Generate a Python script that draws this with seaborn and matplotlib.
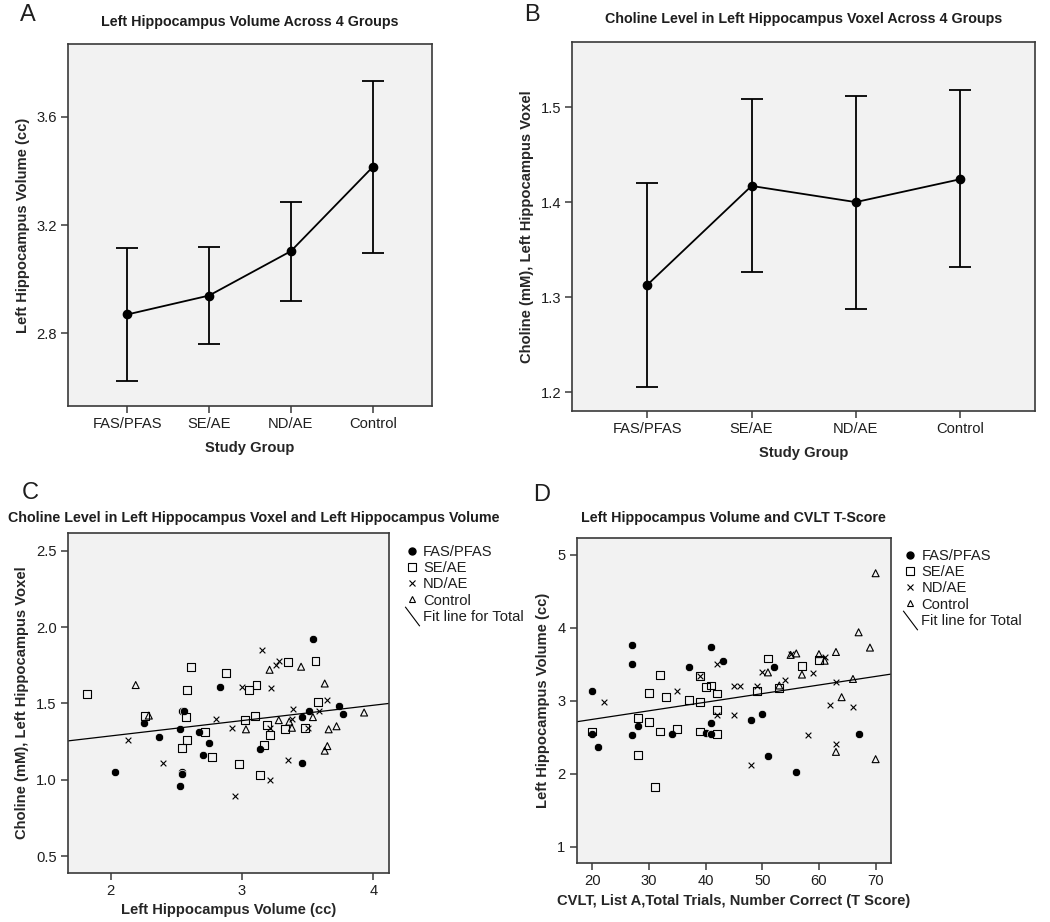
import numpy as np
import pandas as pd
import seaborn as sns
import matplotlib.pyplot as plt
from matplotlib.lines import Line2D

# ---- panel A / B : group means with 95% CI ----
groups = ["FAS/PFAS", "SE/AE", "ND/AE", "Control"]
vol_mean = [2.870, 2.940, 3.104, 3.415]
vol_lo = [2.624, 2.761, 2.920, 3.097]
vol_hi = [3.115, 3.119, 3.287, 3.732]
cho_mean = [1.313, 1.417, 1.400, 1.424]
cho_lo = [1.206, 1.327, 1.288, 1.332]
cho_hi = [1.420, 1.508, 1.512, 1.518]

# ---- panel C : hippocampus volume (cc) vs choline (mM) ----
fas_c_vol = [2.03, 2.25, 2.37, 2.53, 2.54, 2.56, 2.67, 2.75, 2.70, 2.54,
             2.54, 2.53, 2.83, 3.14, 3.46, 3.46, 3.54, 3.51, 3.74, 3.77]
fas_c_cho = [1.05, 1.37, 1.28, 1.33, 1.45, 1.45, 1.31, 1.24, 1.16, 1.05,
             1.04, 0.96, 1.61, 1.20, 1.41, 1.11, 1.92, 1.45, 1.48, 1.43]
se_c_vol = [1.82, 2.26, 2.57, 2.61, 2.58, 2.58, 2.54, 2.72, 2.77, 2.88, 2.98, 3.02,
            3.05, 3.11, 3.10, 3.19, 3.21, 3.17, 3.14, 3.35, 3.33, 3.48, 3.56, 3.58]
se_c_cho = [1.56, 1.42, 1.41, 1.74, 1.59, 1.26, 1.21, 1.31, 1.15, 1.70, 1.10, 1.39,
            1.59, 1.62, 1.42, 1.36, 1.29, 1.23, 1.03, 1.77, 1.33, 1.34, 1.78, 1.51]
nd_c_vol = [2.13, 2.40, 2.80, 2.92, 2.95, 3.00, 3.15, 3.22, 3.21,
            3.26, 3.28, 3.35, 3.39, 3.38, 3.21, 3.65, 3.59, 3.50]
nd_c_cho = [1.26, 1.11, 1.40, 1.34, 0.89, 1.61, 1.85, 1.60, 1.00,
            1.75, 1.78, 1.13, 1.46, 1.40, 1.34, 1.52, 1.45, 1.34]
ctl_c_vol = [2.19, 2.29, 3.03, 3.21, 3.28, 3.36, 3.38, 3.45,
             3.63, 3.54, 3.66, 3.72, 3.65, 3.63, 3.93]
ctl_c_cho = [1.62, 1.42, 1.33, 1.72, 1.39, 1.38, 1.34, 1.74,
             1.63, 1.41, 1.33, 1.35, 1.22, 1.19, 1.44]

# ---- panel D : CVLT T score vs hippocampus volume (cc) ----
fas_d_cvlt = [20, 20, 21, 27, 27, 27, 28, 34, 37, 41, 41, 40, 41, 43, 52, 48, 50, 51, 56, 67]
fas_d_vol = [3.14, 2.54, 2.36, 3.76, 3.51, 2.53, 2.66, 2.54, 3.46, 3.74,
             2.70, 2.56, 2.54, 3.54, 3.46, 2.74, 2.82, 2.25, 2.02, 2.54]
se_d_cvlt = [20, 28, 28, 30, 30, 31, 32, 32, 33, 35, 37, 39,
             39, 39, 40, 41, 42, 42, 42, 51, 49, 53, 57, 60]
se_d_vol = [2.58, 2.77, 2.26, 3.11, 2.71, 1.82, 3.35, 2.58, 3.05, 2.61, 3.01, 2.98,
            3.34, 2.58, 3.19, 3.21, 3.10, 2.87, 2.55, 3.58, 3.14, 3.18, 3.48, 3.56]
nd_d_cvlt = [22, 35, 39, 42, 42, 45, 45, 46, 48, 49, 50, 54, 55, 58, 59, 61, 62, 63, 63, 66]
nd_d_vol = [2.99, 3.14, 3.34, 3.50, 2.80, 2.80, 3.20, 3.20, 2.12, 3.21,
            3.39, 3.29, 3.64, 2.53, 3.38, 3.60, 2.94, 3.26, 2.41, 2.92]
ctl_d_cvlt = [70, 67, 69, 63, 60, 61, 56, 55, 57, 51, 53, 66, 64, 63, 70]
ctl_d_vol = [4.75, 3.94, 3.73, 3.67, 3.64, 3.55, 3.65, 3.63,
             3.36, 3.39, 3.21, 3.30, 3.05, 2.30, 2.20]

c_data = pd.concat([
    pd.DataFrame({"vol": fas_c_vol, "cho": fas_c_cho, "group": "FAS/PFAS"}),
    pd.DataFrame({"vol": se_c_vol, "cho": se_c_cho, "group": "SE/AE"}),
    pd.DataFrame({"vol": nd_c_vol, "cho": nd_c_cho, "group": "ND/AE"}),
    pd.DataFrame({"vol": ctl_c_vol, "cho": ctl_c_cho, "group": "Control"}),
], ignore_index=True)
d_data = pd.concat([
    pd.DataFrame({"cvlt": fas_d_cvlt, "vol": fas_d_vol, "group": "FAS/PFAS"}),
    pd.DataFrame({"cvlt": se_d_cvlt, "vol": se_d_vol, "group": "SE/AE"}),
    pd.DataFrame({"cvlt": nd_d_cvlt, "vol": nd_d_vol, "group": "ND/AE"}),
    pd.DataFrame({"cvlt": ctl_d_cvlt, "vol": ctl_d_vol, "group": "Control"}),
], ignore_index=True)

INK = "#1e1e1e"
SPINE = "#3a3a3a"
TICK_FS = 10.6
LABEL_FS = 10.6
TITLE_FS = 10.3

sns.set_style("ticks", {"axes.facecolor": "#f2f2f2", "axes.edgecolor": SPINE})
plt.rcParams["font.family"] = ["Liberation Sans", "DejaVu Sans"]
plt.rcParams["text.color"] = INK

scatter_style = {
    "FAS/PFAS": dict(marker="o", color="black", s=36),
    "SE/AE": dict(marker="s", facecolors="none", edgecolor="black", s=32, linewidth=0.8),
    "ND/AE": dict(marker="x", color="black", s=17, linewidth=0.8),
    "Control": dict(marker="^", facecolors="none", edgecolor="black", s=25, linewidth=0.8),
}


def style_axes(ax):
    for sp in ax.spines.values():
        sp.set_linewidth(1.2)
        sp.set_color(SPINE)
    ax.tick_params(direction="out", length=5, width=1.1, color=SPINE,
                   labelsize=TICK_FS, labelcolor=INK, pad=3)


def mean_ci_plot(ax, means, lo, hi):
    sns.pointplot(x=groups, y=means, color="black", errorbar=None,
                  markersize=6, linewidth=1.3, ax=ax)
    pos = np.arange(len(groups))
    yerr = [np.array(means) - np.array(lo), np.array(hi) - np.array(means)]
    ax.errorbar(pos, means, yerr=yerr, fmt="none", ecolor="black",
                elinewidth=1.3, capsize=8, capthick=1.3)
    ax.set_xlim(-0.72, 3.72)
    ax.set_xlabel("Study Group", fontsize=LABEL_FS, fontweight="bold", labelpad=7)
    style_axes(ax)


def scatter_fit(ax, data, x, y):
    for name, kws in scatter_style.items():
        sub = data[data.group == name]
        sns.scatterplot(x=sub[x], y=sub[y], ax=ax, **kws)
    sns.regplot(data=data, x=x, y=y, scatter=False, ci=None, truncate=False,
                color="black", line_kws=dict(linewidth=0.9), ax=ax)
    style_axes(ax)


def add_legend(ax, x0, y0):
    handles = [
        Line2D([], [], ls="none", marker="o", ms=5, color="black"),
        Line2D([], [], ls="none", marker="s", ms=5.5, mfc="none", mec="black", mew=0.8),
        Line2D([], [], ls="none", marker="x", ms=4.5, color="black", mew=0.8),
        Line2D([], [], ls="none", marker="^", ms=5, mfc="none", mec="black", mew=0.8),
        Line2D([], [], ls="none", marker=[(-0.75, 1), (0.75, -1)], ms=14,
               mfc="none", mec="black", mew=0.8),
    ]
    labels = groups + ["Fit line for Total"]
    ax.legend(handles, labels, loc="upper left", bbox_to_anchor=(x0, y0),
              bbox_transform=ax.figure.transFigure, frameon=False,
              fontsize=TICK_FS, handlelength=0.8, handletextpad=0.35,
              labelspacing=0.15, borderpad=0, borderaxespad=0)


W, H = 1050, 922
fig = plt.figure(figsize=(W / 100, H / 100), dpi=100)


def px_axes(l, t, r, b):
    return fig.add_axes([l / W, 1 - b / H, (r - l) / W, (b - t) / H])


ax_a = px_axes(68.3, 44.3, 431.7, 406)
ax_b = px_axes(572.3, 41.7, 1035, 411)
ax_c = px_axes(67.7, 533, 389.3, 872.5)
ax_d = px_axes(576.7, 538, 890.7, 863)

# A
mean_ci_plot(ax_a, vol_mean, vol_lo, vol_hi)
ax_a.set_ylim(2.532, 3.868)
ax_a.set_yticks([2.8, 3.2, 3.6])
ax_a.set_yticklabels(["2.8", "3.2", "3.6"])
ax_a.set_ylabel("Left Hippocampus Volume (cc)", fontsize=LABEL_FS, fontweight="bold", labelpad=5)

# B
mean_ci_plot(ax_b, cho_mean, cho_lo, cho_hi)
ax_b.set_ylim(1.1803, 1.5687)
ax_b.set_yticks([1.2, 1.3, 1.4, 1.5])
ax_b.set_yticklabels(["1.2", "1.3", "1.4", "1.5"])
ax_b.set_ylabel("Choline (mM), Left Hippocampus Voxel", fontsize=LABEL_FS,
                fontweight="bold", labelpad=5)

# C
ax_c.set_xlim(1.672, 4.122)
ax_c.set_ylim(0.392, 2.616)
scatter_fit(ax_c, c_data, "vol", "cho")
ax_c.set_xticks([2, 3, 4])
ax_c.set_yticks([0.5, 1.0, 1.5, 2.0, 2.5])
ax_c.set_yticklabels(["0.5", "1.0", "1.5", "2.0", "2.5"])
ax_c.set_xlabel("Left Hippocampus Volume (cc)", fontsize=LABEL_FS, fontweight="bold", labelpad=4)
ax_c.set_ylabel("Choline (mM), Left Hippocampus Voxel", fontsize=LABEL_FS,
                fontweight="bold", labelpad=5)
add_legend(ax_c, 406 / W, 1 - 545 / H)

# D
ax_d.set_xlim(17.25, 72.66)
ax_d.set_ylim(0.776, 5.233)
scatter_fit(ax_d, d_data, "cvlt", "vol")
ax_d.set_xticks([20, 30, 40, 50, 60, 70])
ax_d.set_yticks([1, 2, 3, 4, 5])
ax_d.set_xlabel("CVLT, List A,Total Trials, Number Correct (T Score)", fontsize=LABEL_FS,
                fontweight="bold", labelpad=4)
ax_d.set_ylabel("Left Hippocampus Volume (cc)", fontsize=LABEL_FS, fontweight="bold", labelpad=5)
add_legend(ax_d, 904.5 / W, 1 - 549 / H)

# titles and panel letters
title_kw = dict(fontsize=TITLE_FS, fontweight="bold", ha="center", va="center")
fig.text(250 / W, 1 - 22 / H, "Left Hippocampus Volume Across 4 Groups", **title_kw)
fig.text(804 / W, 1 - 19.3 / H, "Choline Level in Left Hippocampus Voxel Across 4 Groups", **title_kw)
fig.text(253.5 / W, 1 - 518.3 / H,
         "Choline Level in Left Hippocampus Voxel and Left Hippocampus Volume", **title_kw)
fig.text(733 / W, 1 - 518 / H, "Left Hippocampus Volume and CVLT T-Score", **title_kw)

letter_kw = dict(fontsize=17, ha="center", va="center")
for letter, lx, ly in [("A", 28, 15), ("B", 532, 15), ("C", 30, 493), ("D", 542, 495)]:
    fig.text(lx / W, 1 - ly / H, letter, **letter_kw)

fig.savefig("out.png", dpi=100)
